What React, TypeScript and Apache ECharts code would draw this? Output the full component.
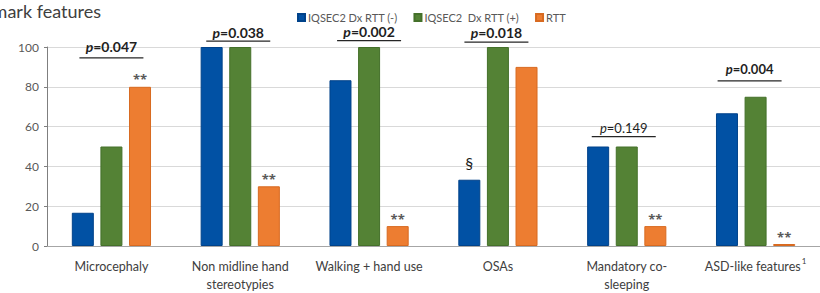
import React, { useEffect, useRef } from "react";
import * as echarts from "echarts";

const categories = [
  "Microcephaly",
  "Non midline hand\nstereotypies",
  "Walking + hand use",
  "OSAs",
  "Mandatory co-\nsleeping",
  "ASD-like features",
];
const seriesNames = ["IQSEC2 Dx RTT (-)", "IQSEC2  Dx RTT (+)", "RTT"];
const negValues = [16.7, 100, 83.3, 33.3, 50, 66.7];
const posValues = [50, 100, 100, 100, 50, 75];
const rttValues = [80, 30, 10, 90, 10, 1];
const rttMarks = ["**", "**", "**", "", "**", "**"];
const negMarks = ["", "", "", "§", "", ""];
const pLabels = ["0.047", "0.038", "0.002", "0.018", "0.149", "0.004"];
const pBold = [true, true, true, true, false, true];
const yTicks = [0, 20, 40, 60, 80, 100];

// annotation placement (data units / px offsets)
const pTextY = [100.5, 107.5, 107.6, 107.2, 59.5, 88.8];
const pLineY = [94.5, 103, 103.2, 102.5, 55, 83];
const pShift = [0, -2, 0, -1.5, -3, -6];

const FONT = "Lato, 'Open Sans', sans-serif";

export default function App() {
  const ref = useRef<HTMLDivElement>(null);
  useEffect(() => {
    if (!ref.current) return;
    const chart = echarts.init(ref.current, null, { renderer: "svg" });
    const colors = ["#0151A4", "#548235", "#ED7D31"];
    const borders = ["#00428a", "#44702a", "#d86a20"];
    const mkSeries = (i: number, values: number[], marks: string[]) => ({
      name: seriesNames[i],
      type: "bar",
      barWidth: 22,
      barGap: "30%",
      data: values.map((v, k) => ({
        value: v,
        label: {
          show: marks[k] !== "",
          formatter: marks[k],
        },
      })),
      itemStyle: { color: colors[i], borderColor: borders[i], borderWidth: 1 },
      label: {
        show: false,
        position: "top",
        distance: i === 0 ? 9 : 1,
        fontFamily: i === 0 ? FONT : "'Open Sans', sans-serif",
        fontSize: i === 0 ? 16 : 13,
        fontWeight: i === 0 ? "normal" : "bold",
        color: i === 0 ? "#1a1a1a" : "#595959",
      },
    });
    chart.setOption({
      animation: false,
      textStyle: { fontFamily: FONT },
      grid: { left: 47, right: -5, top: 47, bottom: 46, containLabel: false },
      legend: {
        left: 292,
        top: 7,
        itemWidth: 7,
        itemHeight: 7,
        itemGap: 16,
        icon: "rect",
        data: seriesNames,
        textStyle: { fontFamily: FONT, fontSize: 11, color: "#595959", padding: [0, 0, 0, -2] },
      },
      xAxis: {
        type: "category",
        data: categories,
        axisLine: { lineStyle: { color: "#a6a6a6", width: 1 } },
        axisTick: { show: false },
        axisLabel: {
          interval: 0,
          margin: 11,
          fontFamily: FONT,
          fontSize: 12.5,
          color: "#404040",
          lineHeight: 18,
          formatter: (v: string) =>
            v === "ASD-like features" ? "{a|" + v + "}{s|1}" : v,
          rich: {
            a: { fontFamily: FONT, fontSize: 12.5, color: "#404040", lineHeight: 18 },
            s: { fontFamily: FONT, fontSize: 8, color: "#404040", verticalAlign: "top", padding: [0, 0, 10, 1] },
          },
        },
      },
      yAxis: {
        type: "value",
        min: 0,
        max: 100,
        interval: 20,
        axisLine: { show: true, lineStyle: { color: "#7f7f7f" } },
        axisTick: { show: true, length: 3, lineStyle: { color: "#7f7f7f" } },
        axisLabel: {
          margin: 8,
          fontFamily: FONT,
          fontSize: 12,
          color: "#595959",
          formatter: (v: number) => (yTicks.includes(v) ? String(v) : ""),
        },
        splitLine: { lineStyle: { color: "#d9d9d9", width: 1 } },
      },
      series: [
        mkSeries(0, negValues, negMarks),
        mkSeries(1, posValues, ["", "", "", "", "", ""]),
        mkSeries(2, rttValues, rttMarks),
      ],
    });

    const graphics: any[] = [
      {
        type: "text",
        x: 101,
        y: 11,
        style: {
          text: "Hallmark features",
          align: "right",
          verticalAlign: "middle",
          fontFamily: FONT,
          fontSize: 18,
          fill: "#404040",
        },
      },
    ];
    pLabels.forEach((p, i) => {
      const t = chart.convertToPixel({ xAxisIndex: 0, yAxisIndex: 0 }, [i, pTextY[i]]) as number[];
      const l = chart.convertToPixel({ xAxisIndex: 0, yAxisIndex: 0 }, [i, pLineY[i]]) as number[];
      const cx = t[0] + pShift[i];
      const bold = pBold[i];
      const fs = bold ? (i === 5 ? 13 : 14) : 13;
      graphics.push({
        type: "text",
        x: cx,
        y: t[1],
        style: {
          text: "{i|p}{n|=" + p + "}",
          align: "center",
          verticalAlign: "middle",
          rich: {
            i: { fontFamily: FONT, fontSize: fs, fontStyle: "italic", fontWeight: bold ? "bold" : "normal", fill: "#1f1f1f" },
            n: { fontFamily: FONT, fontSize: fs, fontWeight: bold ? "bold" : "normal", fill: "#1f1f1f" },
          },
        },
      });
      graphics.push({
        type: "line",
        shape: { x1: cx - 32, y1: l[1], x2: cx + 32, y2: l[1] },
        style: { stroke: "#262626", lineWidth: 1.3 },
      });
    });
    chart.setOption({ graphic: graphics });

    return () => chart.dispose();
  }, []);
  return <div ref={ref} style={{ width: 820, height: 293, position: "absolute", left: 0, top: 0 }} />;
}
